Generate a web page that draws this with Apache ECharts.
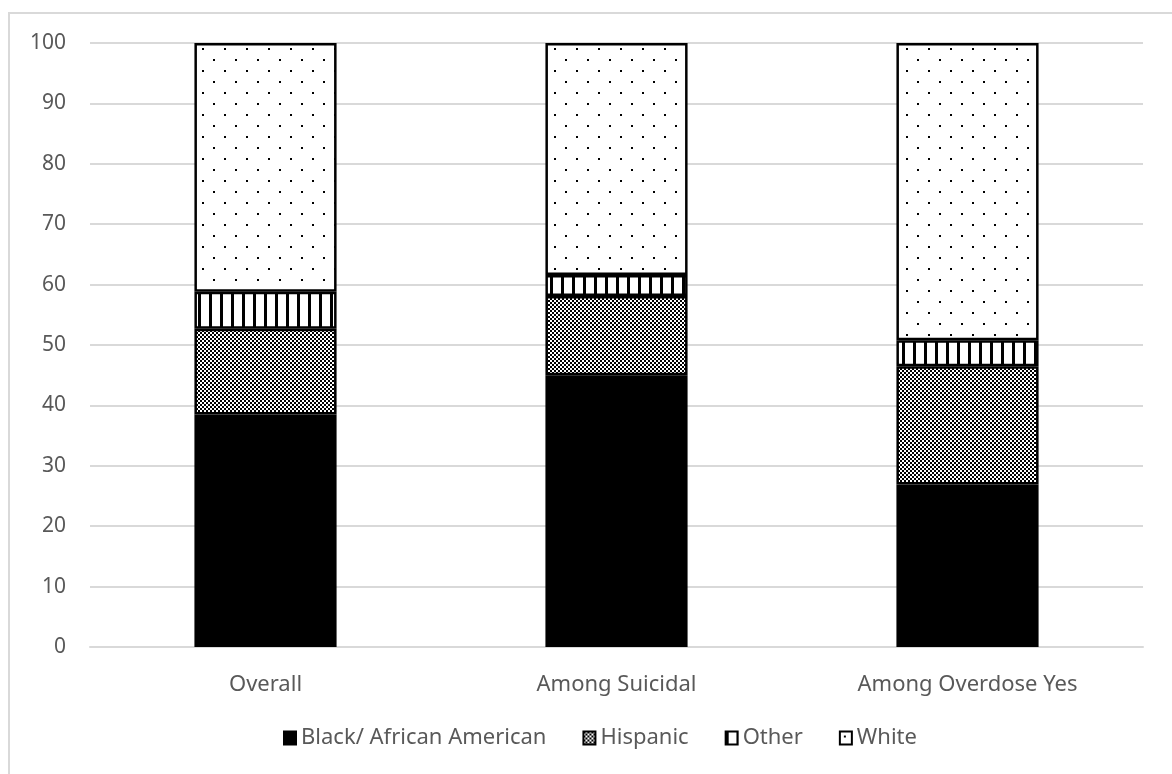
<!DOCTYPE html>
<html>
<head>
<meta charset="utf-8">
<script src="https://cdn.jsdelivr.net/npm/echarts@6/dist/echarts.min.js"></script>
<style>
  html, body { margin: 0; padding: 0; background: #fff; }
  #chart { width: 1172px; height: 774px; }
</style>
</head>
<body>
<div id="chart"></div>
<script>
// Share of each group (%) within each population
const categories = ['Overall', 'Among Suicidal', 'Among Overdose Yes'];
const black = [38.5, 45.0, 26.9];
const hispanic = [14.2, 13.1, 19.6];
const other = [6.1, 3.5, 4.3];
const white = [41.2, 38.4, 49.2];
const seriesNames = ['Black/ African American', 'Hispanic', 'Other', 'White'];
const yTicks = [0, 10, 20, 30, 40, 50, 60, 70, 80, 90, 100];

// Fill patterns
function makeCanvas(w, h, draw) {
  const c = document.createElement('canvas');
  c.width = w; c.height = h;
  const ctx = c.getContext('2d');
  ctx.fillStyle = '#fff';
  ctx.fillRect(0, 0, w, h);
  draw(ctx);
  return c;
}
const checker = makeCanvas(4, 4, ctx => {
  ctx.fillStyle = '#000';
  ctx.fillRect(0, 0, 2, 2);
  ctx.fillRect(2, 2, 2, 2);
});
const stripes = makeCanvas(11, 11, ctx => {
  ctx.fillStyle = '#000';
  ctx.fillRect(0, 0, 3, 11);
});
const dots = makeCanvas(22, 22, ctx => {
  ctx.fillStyle = '#000';
  ctx.fillRect(4, 4, 2, 2);
  ctx.fillRect(15, 15, 2, 2);
});

const fills = [
  '#000',
  { image: checker, repeat: 'repeat' },
  { image: stripes, repeat: 'repeat' },
  { image: dots, repeat: 'repeat' }
];
const values = [black, hispanic, other, white];

const chart = echarts.init(document.getElementById('chart'), null, { renderer: 'canvas' });
const textColor = '#595959';
const fontFamily = '"Noto Sans", "Open Sans", sans-serif';

chart.setOption({
  animation: false,
  backgroundColor: '#fff',
  textStyle: { fontFamily },
  graphic: [{
    type: 'rect',
    shape: { x: 9, y: 13, width: 1300, height: 900 },
    style: { fill: 'none', stroke: '#d9d9d9', lineWidth: 2 },
    silent: true
  }],
  grid: { left: 90, right: 29, top: 43, bottom: 127, containLabel: false },
  legend: {
    top: 722,
    left: 278,
    icon: 'rect',
    itemWidth: 12,
    itemHeight: 13,
    itemGap: 36,
    textStyle: { color: textColor, fontSize: 22, fontFamily },
    data: seriesNames
  },
  xAxis: {
    type: 'category',
    data: categories,
    axisTick: { show: false },
    axisLine: { show: true, lineStyle: { color: '#d9d9d9', width: 2 } },
    axisLabel: { color: textColor, fontSize: 22, margin: 27, fontFamily }
  },
  yAxis: {
    type: 'value',
    min: yTicks[0],
    max: yTicks[yTicks.length - 1],
    interval: 10,
    axisLine: { show: false },
    axisTick: { show: false },
    splitLine: { lineStyle: { color: '#d9d9d9', width: 2 } },
    axisLabel: { color: textColor, fontSize: 21, margin: 24, fontFamily }
  },
  series: seriesNames.map((name, i) => ({
    name,
    type: 'bar',
    stack: 'total',
    data: values[i],
    barWidth: '40.5%',
    itemStyle: { color: fills[i], borderColor: '#000', borderWidth: 2.5 },
    emphasis: { disabled: true }
  }))
});
</script>
</body>
</html>
